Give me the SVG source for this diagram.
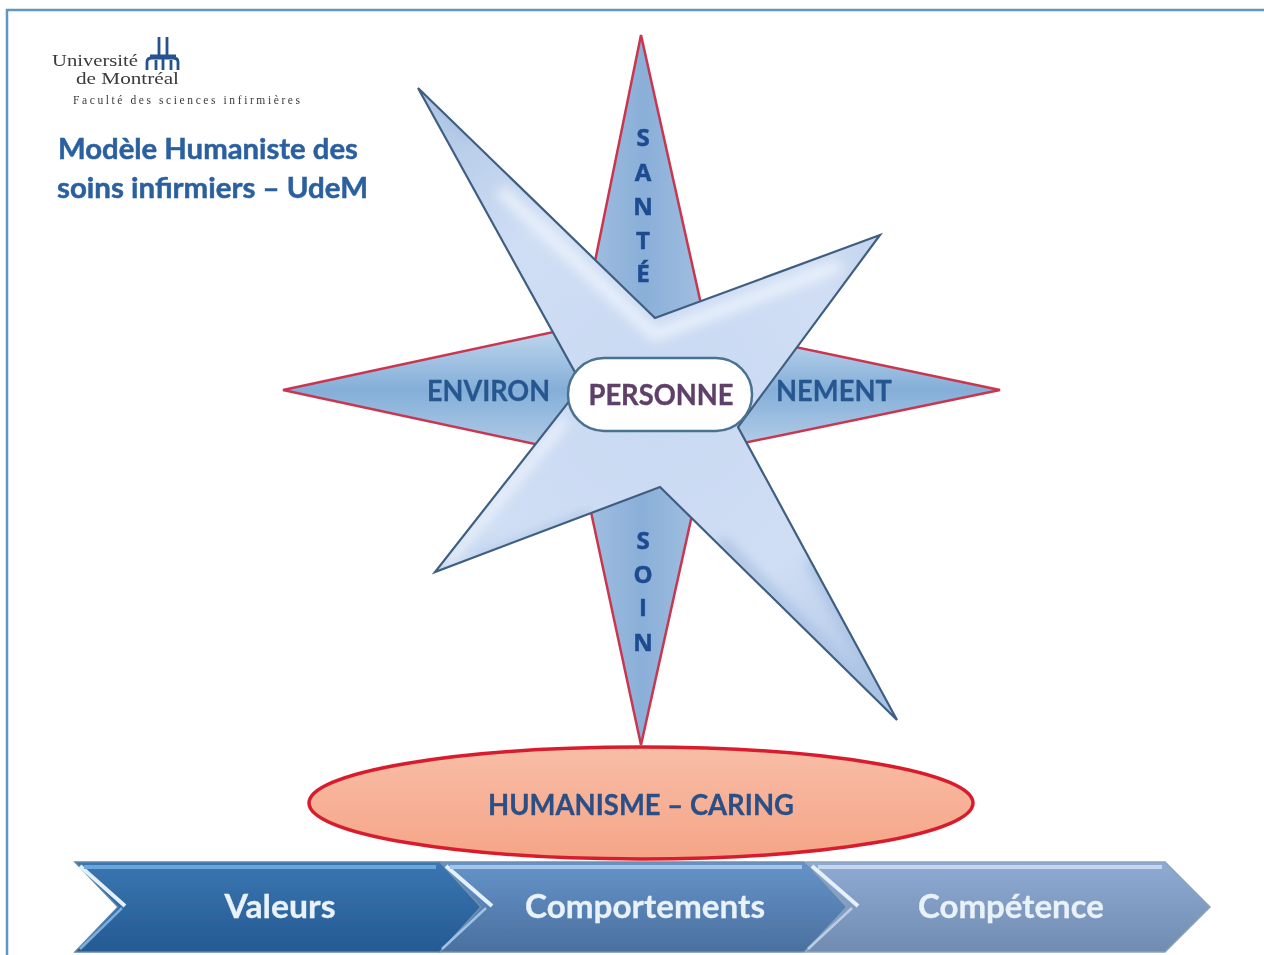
<svg xmlns="http://www.w3.org/2000/svg" width="1264" height="955" viewBox="0 0 1264 955">
<style>
text{font-family:Lato,"Open Sans",sans-serif;font-weight:700;filter:url(#soft)}
.title{font-size:29px;fill:#2c609f;stroke:#2c609f;stroke-width:.5}
.lbl{font-size:28px;fill:#28578f;stroke:#28578f;stroke-width:.3}
.ltr{font-family:"Open Sans",sans-serif;font-size:24px;fill:#1e4b90;text-anchor:middle;stroke:#1e4b90;stroke-width:.5}
.chev{font-size:33px;fill:#e9f1f9;text-anchor:middle;stroke:#e9f1f9;stroke-width:.3}
.serif{font-family:"Liberation Serif",serif;font-weight:400;fill:#3a3a3a}
.kite{stroke:#c93650;stroke-width:2.500;stroke-linejoin:miter}
.hl{fill:none;stroke:#e4f0fb;stroke-width:4}
.lo{fill:none;stroke-width:2.500}
.glow{fill:none;stroke:#f4f8fe;stroke-opacity:.75;filter:url(#g6)}
.dark{fill:none;stroke:#a9c1e3;filter:url(#g6)}
</style>
<defs>
<filter id="soft" x="-10%" y="-20%" width="120%" height="140%"><feGaussianBlur stdDeviation="0.6"/></filter>
<filter id="blur" x="-5%" y="-5%" width="110%" height="110%"><feGaussianBlur stdDeviation="0.6"/></filter>
<filter id="g6" x="-20%" y="-20%" width="140%" height="140%"><feGaussianBlur stdDeviation="6"/></filter>
<linearGradient id="kv" x1="0" y1="0" x2="1" y2="0"><stop offset="0" stop-color="#a3c0e1"/><stop offset=".5" stop-color="#8aafd8"/><stop offset="1" stop-color="#a3c0e1"/></linearGradient>
<linearGradient id="kh" x1="0" y1="0" x2="0" y2="1"><stop offset="0" stop-color="#c7dcf0"/><stop offset=".5" stop-color="#84aed8"/><stop offset="1" stop-color="#b8d1ea"/></linearGradient>
<radialGradient id="star" gradientUnits="userSpaceOnUse" cx="655" cy="400" r="340"><stop offset="0" stop-color="#c8d9f2"/><stop offset=".6" stop-color="#d0def4"/><stop offset="1" stop-color="#b5cbe8"/></radialGradient>
<linearGradient id="oval" x1="0" y1="0" x2="0" y2="1"><stop offset="0" stop-color="#f8bda6"/><stop offset="1" stop-color="#f5a587"/></linearGradient>
<linearGradient id="c1" x1="0" y1="0" x2="0" y2="1"><stop offset="0" stop-color="#3a76b2"/><stop offset="1" stop-color="#255a92"/></linearGradient>
<linearGradient id="c2" x1="0" y1="0" x2="0" y2="1"><stop offset="0" stop-color="#6593c9"/><stop offset="1" stop-color="#4a709f"/></linearGradient>
<linearGradient id="c3" x1="0" y1="0" x2="0" y2="1"><stop offset="0" stop-color="#8fabd4"/><stop offset="1" stop-color="#708cb1"/></linearGradient>
<clipPath id="starclip"><polygon points="418,88 655,318 880,235 738,427 897,720 660,487 435,572 582,385"/></clipPath>
</defs>
<rect width="1264" height="955" fill="#fff"/>
<path d="M7 955V10H1264" fill="none" stroke="#5f97c2" stroke-width="2.500" filter="url(#blur)"/>

<g id="logo">
<text class="serif" x="52" y="66" font-size="16" textLength="86" lengthAdjust="spacingAndGlyphs">Université</text>
<text class="serif" x="76" y="84" font-size="17" textLength="103" lengthAdjust="spacingAndGlyphs">de Montréal</text>
<text class="serif" x="73" y="104" font-size="11.500" textLength="227" lengthAdjust="spacing">Faculté des sciences infirmières</text>
<path d="M159 37V58M167 37V58M147 70V62Q147 58 152 58H173Q178 58 178 62V70M156 70V60M163 70V58M171 70V60M150 56H176" fill="none" stroke="#26528e" stroke-width="2.800" filter="url(#blur)"/>
</g>
<g id="title">
<text class="title" x="58" y="159" textLength="300" lengthAdjust="spacingAndGlyphs">Modèle Humaniste des</text>
<text class="title" x="57" y="198" textLength="311" lengthAdjust="spacingAndGlyphs">soins infirmiers – UdeM</text>
</g>

<g id="compass">
<polygon id="kite-sante" class="kite" fill="url(#kv)" points="641,35 709,340 579,340"/>
<polygon id="kite-env-l" class="kite" fill="url(#kh)" points="283,390 600,322 600,458"/>
<polygon id="kite-env-r" class="kite" fill="url(#kh)" points="1000,390 700,327 700,452"/>
<polygon id="kite-soin" class="kite" fill="url(#kv)" points="641,745 582,470 702,470"/>
<polygon id="star-shape" fill="url(#star)" points="418,88 655,318 880,235 738,427 897,720 660,487 435,572 582,385"/>
<g clip-path="url(#starclip)">
<path class="glow" stroke-width="12" d="M500 190 655 335 840 265"/>
<path class="glow" stroke-width="10" d="M445 565 565 420"/>
<path class="dark" stroke-width="8" d="M418 88 470 140"/>
<path class="dark" stroke-width="10" d="M897 720 720 540M897 720 810 560"/>
<path class="dark" stroke-width="8" d="M480 560 590 515"/>
</g>
<polygon fill="none" stroke="#3f5f80" stroke-width="2.200" stroke-linejoin="miter" points="418,88 655,318 880,235 738,427 897,720 660,487 435,572 582,385" filter="url(#blur)"/>
</g>

<g id="sante">
<text class="ltr" x="643" y="146">S</text><text class="ltr" x="643" y="181">A</text><text class="ltr" x="643" y="215">N</text><text class="ltr" x="643" y="249">T</text><text class="ltr" x="643" y="282">É</text>
</g>
<g id="soin">
<text class="ltr" x="643" y="549">S</text><text class="ltr" x="643" y="583">O</text><text class="ltr" x="643" y="616">I</text><text class="ltr" x="643" y="651">N</text>
</g>
<g id="environ"><text class="lbl" x="427" y="401" textLength="123" lengthAdjust="spacingAndGlyphs">ENVIRON</text></g>
<g id="nement"><text class="lbl" x="776" y="401" textLength="116" lengthAdjust="spacingAndGlyphs">NEMENT</text></g>
<g id="personne">
<rect x="568" y="358" width="184" height="73" rx="36" fill="#fff" stroke="#4a7190" stroke-width="2.500" filter="url(#blur)"/>
<text x="661" y="405" font-size="29" fill="#5e3f68" stroke="#5e3f68" stroke-width=".4" text-anchor="middle" textLength="145" lengthAdjust="spacingAndGlyphs">PERSONNE</text>
</g>
<g id="humanisme">
<ellipse cx="641" cy="803" rx="332" ry="56" fill="url(#oval)" stroke="#d81f2f" stroke-width="3.500" filter="url(#blur)"/>
<text x="641" y="815" font-size="28" fill="#2a4f86" stroke="#2a4f86" stroke-width=".3" text-anchor="middle" textLength="306" lengthAdjust="spacingAndGlyphs">HUMANISME – CARING</text>
</g>

<g id="valeurs" filter="url(#blur)">
<polygon fill="url(#c1)" stroke="#5e86a8" stroke-width="1.500" points="75,862 440,862 481,907 440,952 75,952 118,907"/>
<path class="hl" d="M80 866 125 906"/><path d="M84 867H436" fill="none" stroke="#6aa6dc" stroke-width="4"/>
<path class="lo" stroke="#78aee0" d="M80 949 122 908"/>
</g>
<g id="comportements" filter="url(#blur)">
<polygon fill="url(#c2)" stroke="#6f8fae" stroke-width="1.500" points="440,862 804,862 847,907 804,952 440,952 481,907"/>
<path class="hl" d="M446 866 492 906"/><path d="M450 867H802" fill="none" stroke="#a3c6e8" stroke-width="4"/>
<path class="lo" stroke="#9fc2e6" d="M442 949 486 908"/>
</g>
<g id="competence" filter="url(#blur)">
<polygon fill="url(#c3)" stroke="#8ba2bd" stroke-width="1.500" points="806,862 1165,862 1210,907 1165,952 806,952 847,907"/>
<path class="hl" d="M812 866 858 906"/><path d="M818 867H1162" fill="none" stroke="#c5d7ec" stroke-width="4"/>
<path class="lo" stroke="#b9cde5" d="M808 949 852 908"/>
</g>
<g id="chevron-labels">
<text class="chev" x="280" y="918" textLength="111" lengthAdjust="spacingAndGlyphs">Valeurs</text>
<text class="chev" x="645" y="918" textLength="240" lengthAdjust="spacingAndGlyphs">Comportements</text>
<text class="chev" x="1011" y="918" textLength="186" lengthAdjust="spacingAndGlyphs">Compétence</text>
</g>
</svg>
